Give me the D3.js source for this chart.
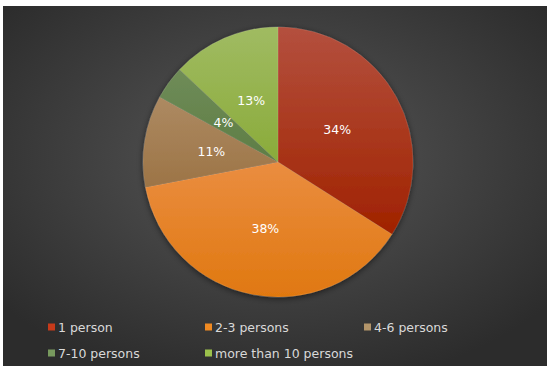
<!DOCTYPE html>
<html>
<head>
<meta charset="utf-8">
<script src="https://cdn.jsdelivr.net/npm/d3@7/dist/d3.min.js"></script>
<style>
  html, body { margin: 0; padding: 0; background: #ffffff; }
  svg { display: block; }
</style>
</head>
<body>
<svg id="chart" width="547" height="366"></svg>
<script>
// Household size distribution
const categories = ["1 person", "2-3 persons", "4-6 persons", "7-10 persons", "more than 10 persons"];
const shares = [34, 38, 11, 4, 13];
const sliceTop = ["#b4503e", "#ea8d40", "#ad8a62", "#6f8c58", "#a0bb62"];
const sliceBottom = ["#a02200", "#e07810", "#9c7446", "#5e7d45", "#8aab3a"];
const legendColors = ["#c63a1a", "#f08a22", "#b3956a", "#789a5e", "#9cc24c"];

const width = 547, height = 366;
const svg = d3.select("#chart");
const defs = svg.append("defs");

// Background panel with soft radial shading
const bg = defs.append("radialGradient").attr("id", "bg")
  .attr("cx", "50%").attr("cy", "42%").attr("r", "65%");
bg.append("stop").attr("offset", "0%").attr("stop-color", "#585858");
bg.append("stop").attr("offset", "100%").attr("stop-color", "#2c2c2c");
svg.append("rect").attr("x", 3).attr("y", 6)
  .attr("width", width - 3).attr("height", height - 6)
  .attr("fill", "url(#bg)");

// Drop shadow under the pie
const shadow = defs.append("filter").attr("id", "shadow")
  .attr("x", "-20%").attr("y", "-20%").attr("width", "140%").attr("height", "140%");
shadow.append("feDropShadow").attr("dx", 0).attr("dy", 1.5)
  .attr("stdDeviation", 3).attr("flood-color", "#000").attr("flood-opacity", 0.55);

categories.forEach((c, i) => {
  const g = defs.append("linearGradient").attr("id", "slice" + i)
    .attr("x1", 0).attr("y1", 0).attr("x2", 0).attr("y2", 1);
  g.append("stop").attr("offset", "0%").attr("stop-color", sliceTop[i]);
  g.append("stop").attr("offset", "100%").attr("stop-color", sliceBottom[i]);
});

const cx = 278, cy = 162, radius = 135;
const data = categories.map((c, i) => ({ name: c, value: shares[i], i }));
const pie = d3.pie().value(d => d.value).sort(null);
const arc = d3.arc().innerRadius(0).outerRadius(radius);
const labelArc = d3.arc().innerRadius(radius * 0.5).outerRadius(radius * 0.5);
const arcs = pie(data);

const pieG = svg.append("g").attr("transform", `translate(${cx},${cy})`);
pieG.append("g").attr("filter", "url(#shadow)")
  .selectAll("path").data(arcs).join("path")
  .attr("d", arc)
  .attr("fill", d => `url(#slice${d.data.i})`)
  .attr("stroke", "rgba(255,255,255,0.18)")
  .attr("stroke-width", 0.6);

pieG.selectAll("text.lbl").data(arcs).join("text")
  .attr("class", "lbl")
  .attr("transform", d => `translate(${labelArc.centroid(d)})`)
  .attr("text-anchor", "middle")
  .attr("dominant-baseline", "central")
  .attr("font-family", "'DejaVu Sans', sans-serif")
  .attr("font-size", 12.5)
  .attr("fill", "#ffffff")
  .text(d => d.data.value + "%");

// Legend, three columns
const colX = [48, 205, 364];
const rowY = [327, 353];
const legend = svg.append("g");
const items = legend.selectAll("g").data(data).join("g")
  .attr("transform", (d, i) => `translate(${colX[i % 3]},${rowY[Math.floor(i / 3)]})`);
items.append("rect").attr("x", 0).attr("y", -3.5).attr("width", 7).attr("height", 7)
  .attr("fill", d => legendColors[d.i]);
items.append("text").attr("x", 10).attr("y", 0)
  .attr("dominant-baseline", "central")
  .attr("font-family", "'DejaVu Sans', sans-serif")
  .attr("font-size", 12.5)
  .attr("fill", "#d9d9d9")
  .text(d => d.name);
</script>
</body>
</html>
